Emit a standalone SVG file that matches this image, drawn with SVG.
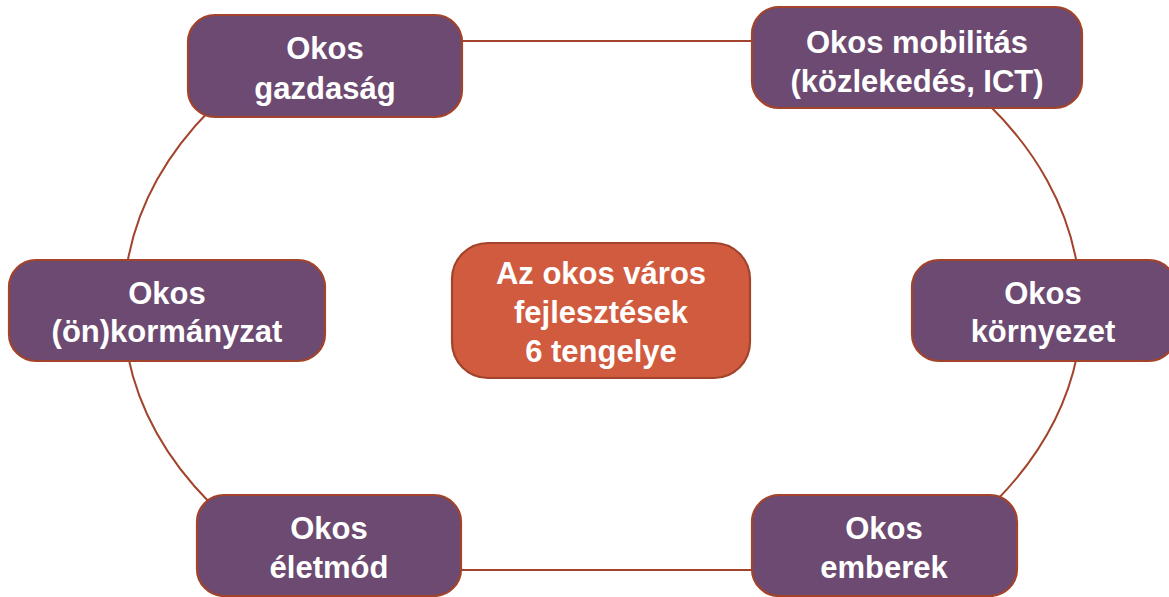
<svg xmlns="http://www.w3.org/2000/svg" width="1169" height="597" viewBox="0 0 1169 597">
<style>
.conn{fill:none;stroke:#A2432B;stroke-width:2}
.node{fill:#6C4A71;stroke:#A2432B;stroke-width:2.2}
.core{fill:#D15B3E;stroke:#A2432B;stroke-width:2.2}
.t{fill:#FFFFFF;font-family:"Liberation Sans",Arial,sans-serif;font-weight:bold;font-size:31px;text-anchor:middle}
</style>
<rect width="1169" height="597" fill="#FFFFFF"/>
<g id="connectors">
<path class="conn" d="M 450 41 L 760 41"/>
<path class="conn" d="M 988 104 A 479 340 0 0 1 1077 265"/>
<path class="conn" d="M 1077 356 A 479 340 0 0 1 995 502"/>
<path class="conn" d="M 760 570 L 450 570"/>
<path class="conn" d="M 210 503 A 479 340 0 0 1 128 356"/>
<path class="conn" d="M 127 265 A 479 340 0 0 1 211 109"/>
</g>
<g id="node-center">
<rect class="core" x="452" y="243" width="298" height="135" rx="36"/>
<text class="t" x="601" y="284">Az okos város</text>
<text class="t" x="601" y="323">fejlesztések</text>
<text class="t" x="601" y="362">6 tengelye</text>
</g>
<g id="node-gazdasag">
<rect class="node" x="188" y="15" width="274" height="102" rx="27"/>
<text class="t" x="325" y="59">Okos</text>
<text class="t" x="325" y="99">gazdaság</text>
</g>
<g id="node-mobilitas">
<rect class="node" x="752" y="7" width="330" height="101" rx="27"/>
<text class="t" x="917" y="53">Okos mobilitás</text>
<text class="t" x="917" y="92">(közlekedés, ICT)</text>
</g>
<g id="node-kormanyzat">
<rect class="node" x="9" y="260" width="316" height="101" rx="27"/>
<text class="t" x="167" y="304">Okos</text>
<text class="t" x="167" y="342">(ön)kormányzat</text>
</g>
<g id="node-kornyezet">
<rect class="node" x="912" y="260" width="264" height="101" rx="27"/>
<text class="t" x="1043" y="304">Okos</text>
<text class="t" x="1043" y="342">környezet</text>
</g>
<g id="node-eletmod">
<rect class="node" x="197" y="495" width="264" height="101" rx="27"/>
<text class="t" x="329" y="539">Okos</text>
<text class="t" x="329" y="578">életmód</text>
</g>
<g id="node-emberek">
<rect class="node" x="752" y="495" width="265" height="101" rx="27"/>
<text class="t" x="884" y="539">Okos</text>
<text class="t" x="884" y="578">emberek</text>
</g>
</svg>
